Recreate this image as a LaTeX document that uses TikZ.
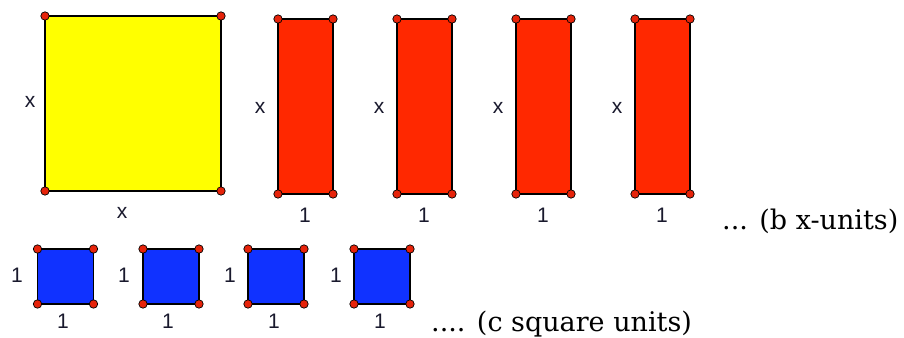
\documentclass[tikz,border=0pt]{standalone}
\usepackage{fontspec}
\setmainfont{DejaVu Serif}
\newfontfamily\labelfont{Liberation Sans}
\usepackage{xcolor}
\definecolor{tileyellow}{RGB}{255,255,0}
\definecolor{tilered}{RGB}{255,40,0}
\definecolor{tileblue}{RGB}{16,50,255}
\definecolor{dotred}{RGB}{230,35,10}
\definecolor{labelink}{RGB}{25,25,45}
\usetikzlibrary{positioning}

\begin{document}
\begin{tikzpicture}[x=1pt, y=-1pt,
  tile/.style={draw=black, line width=1.6pt, inner sep=0pt, outer sep=0pt},
  sidelabel/.style={font=\labelfont\fontsize{21}{21}\selectfont, text=labelink, inner sep=0pt},
  note/.style={font=\fontsize{27}{27}\selectfont, inner sep=0pt, anchor=base west}]

\useasboundingbox (0,0) rectangle (904,337);

% x^2 tile
\node[tile, fill=tileyellow, minimum width=176pt, minimum height=175pt] (sq) at (133,103.5) {};
\node[sidelabel] (sqL) at (30,102) {x};
\node[sidelabel] (sqB) at (122,213) {x};

% x-unit tiles
\node[tile, fill=tilered, minimum width=55pt, minimum height=175pt] (xa) at (305.5,106.5) {};
\node[tile, fill=tilered, minimum width=55pt, minimum height=175pt] (xb) at (424.5,106.5) {};
\node[tile, fill=tilered, minimum width=55pt, minimum height=175pt] (xc) at (543.5,106.5) {};
\node[tile, fill=tilered, minimum width=55pt, minimum height=175pt] (xd) at (662.5,106.5) {};
\node[sidelabel] (xaL) at (260,108) {x};
\node[sidelabel] (xbL) at (379,108) {x};
\node[sidelabel] (xcL) at (498,108) {x};
\node[sidelabel] (xdL) at (617,108) {x};
\node[sidelabel] (xaB) at (305,215) {1};
\node[sidelabel] (xbB) at (424,215) {1};
\node[sidelabel] (xcB) at (543,215) {1};
\node[sidelabel] (xdB) at (662,215) {1};
\node[note] (xnote) at (722,229) {... (b x-units)};

% unit tiles
\node[tile, fill=tileblue, minimum width=56pt, minimum height=55pt] (ua) at (65.5,276.5) {};
\node[tile, fill=tileblue, minimum width=56pt, minimum height=55pt] (ub) at (171,276.5) {};
\node[tile, fill=tileblue, minimum width=56pt, minimum height=55pt] (uc) at (276,276.5) {};
\node[tile, fill=tileblue, minimum width=56pt, minimum height=55pt] (ud) at (382,276.5) {};
\node[sidelabel] (uaL) at (17,275) {1};
\node[sidelabel] (ubL) at (124,275) {1};
\node[sidelabel] (ucL) at (230,275) {1};
\node[sidelabel] (udL) at (336,275) {1};
\node[sidelabel] (uaB) at (63,321) {1};
\node[sidelabel] (ubB) at (168,321) {1};
\node[sidelabel] (ucB) at (274,321) {1};
\node[sidelabel] (udB) at (380,321) {1};
\node[note] (unote) at (431,331) {.... (c square units)};

% corner points
\foreach \t in {sq,xa,xb,xc,xd,ua,ub,uc,ud}
  \foreach \c in {north west,north east,south west,south east}
    \filldraw[fill=dotred, draw=black, line width=0.7pt] (\t.\c) circle (4.2pt);

\end{tikzpicture}
\end{document}
